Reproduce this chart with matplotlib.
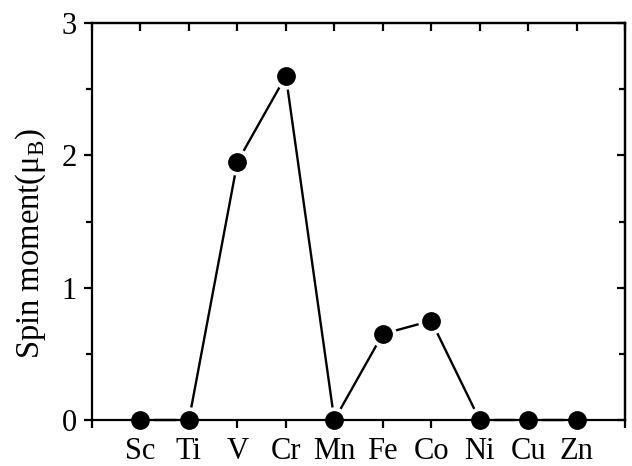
import numpy as np
import matplotlib
matplotlib.use("Agg")
import matplotlib.pyplot as plt
from matplotlib.ticker import MultipleLocator

plt.rcParams["font.family"] = "serif"
plt.rcParams["font.serif"] = ["Liberation Serif", "DejaVu Serif"]
plt.rcParams["mathtext.fontset"] = "custom"
plt.rcParams["mathtext.rm"] = "Liberation Serif"

elements = ["Sc", "Ti", "V", "Cr", "Mn", "Fe", "Co", "Ni", "Cu", "Zn"]
spin_moment = [0.0, 0.0, 1.95, 2.60, 0.0, 0.65, 0.75, 0.0, 0.0, 0.0]

x = np.arange(1, len(elements) + 1)

fig = plt.figure(figsize=(6.32, 4.66), dpi=100)
ax = fig.add_axes([0.1456, 0.0987, 0.989 - 0.1456, 0.9506 - 0.0987])

# line, white halo to get the gap around the dots, then the dots
ax.plot(x, spin_moment, color="black", lw=1.7, zorder=2, clip_on=False)
ax.plot(x, spin_moment, ls="none", marker="o", ms=18, mfc="white", mec="white", zorder=2.1, clip_on=False)
ax.plot(x, spin_moment, ls="none", marker="o", ms=12.5, mfc="black", mec="black", zorder=3, clip_on=False)

ax.set_xlim(0, 11)
ax.set_ylim(0, 3)
ax.set_xticks(np.arange(0, 12))
ax.set_xticklabels([""] + elements + [""])
ax.yaxis.set_major_locator(MultipleLocator(1))
ax.yaxis.set_minor_locator(MultipleLocator(0.5))

for s in ax.spines.values():
    s.set_linewidth(1.6)
    s.set_zorder(4)

ax.tick_params(axis="both", which="major", labelsize=22, width=1.6, length=6, pad=5)
ax.tick_params(axis="x", which="major", pad=6)
ax.tick_params(axis="y", which="minor", width=1.6, length=4)
ax.tick_params(axis="x", which="both", direction="out", top=False)
ax.tick_params(axis="y", which="both", direction="out", right=False)
for lab in ax.get_xticklabels() + ax.get_yticklabels():
    lab.set_fontfamily("Liberation Serif")

# inward ticks on the top and right sides
top = ax.secondary_xaxis("top")
top.set_xticks(np.arange(0, 12))
top.tick_params(direction="in", length=6, width=1.6, labeltop=False)
top.spines["top"].set_linewidth(1.6)
right = ax.secondary_yaxis("right")
right.yaxis.set_major_locator(MultipleLocator(1))
right.yaxis.set_minor_locator(MultipleLocator(0.5))
right.tick_params(which="major", direction="in", length=6, width=1.6, labelright=False)
right.tick_params(which="minor", direction="in", length=4, width=1.6)
right.spines["right"].set_linewidth(1.6)

ax.set_ylabel("Spin moment(μ$_\\mathrm{B}$)", fontsize=23.5, fontfamily="Liberation Serif")
ax.yaxis.set_label_coords(-0.082, 0.446)

fig.savefig("out.png", dpi=100)
